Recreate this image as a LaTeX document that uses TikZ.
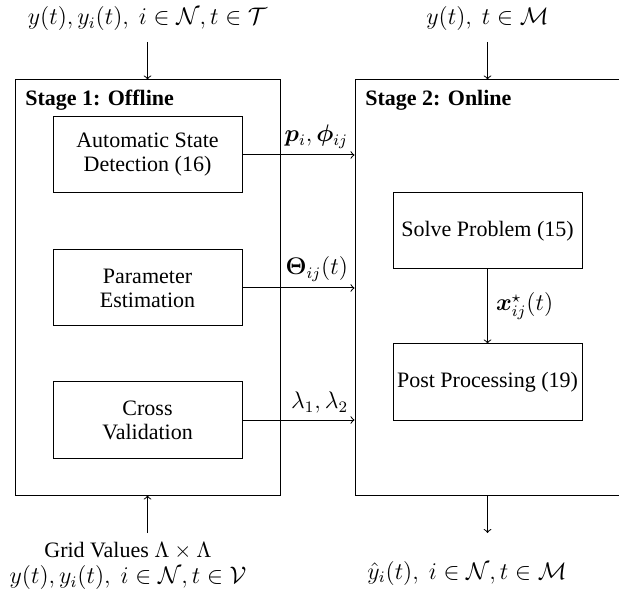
\documentclass[tikz,border=0pt]{standalone}
\usepackage{amsmath,amssymb}
\usepackage{bm}
\usepackage[no-math]{fontspec}
\setmainfont{Liberation Serif}
\newcommand{\mathsz}{\fontsize{12}{13}\selectfont}
\begin{document}
\begin{tikzpicture}[x=0.5pt,y=-0.5pt,
  every node/.style={font=\fontsize{11}{12}\selectfont},
  stagebox/.style={draw, line width=0.5pt},
  procbox/.style={draw, line width=0.5pt, minimum width=94.5pt, minimum height=38pt, align=center, inner sep=2pt},
  lab/.style={inner sep=0pt, align=center},
  mlab/.style={font=\mathsz},
  conn/.style={->, line width=0.5pt},
  title/.style={anchor=north west, inner sep=0pt, font=\fontsize{11}{12}\selectfont\bfseries}]
\useasboundingbox (0,0) rectangle (619,597);
% stage boxes
\node[stagebox, minimum width=132.5pt, minimum height=207.5pt, inner sep=0pt] (s1) at (147.5,287.5) {};
\node[stagebox, minimum width=142.5pt, minimum height=207.5pt, inner sep=0pt] (s2) at (497.5,287.5) {};
\node[title] (t1) at (25,90) {Stage 1: Offline};
\node[title] (t2) at (365,90) {Stage 2: Online};
% process boxes
\node[procbox] (auto) at (147.5,155) {Automatic State\\Detection (16)};
\node[procbox] (param) at (147.5,288) {Parameter\\Estimation};
\node[procbox] (cross) at (147.5,420) {Cross\\Validation};
\node[procbox] (solve) at (487.5,231) {Solve Problem (15)};
\node[procbox] (post) at (487.5,382) {Post Processing (19)};
% connectors between stages
\draw[conn] (auto.east) -- (auto.east -| s2.west) node[mlab, above left, inner sep=3pt] {$\bm{p}_i, \bm{\phi}_{ij}$};
\draw[conn] (param.east) -- (param.east -| s2.west) node[mlab, above left, inner sep=3pt] {$\bm{\Theta}_{ij}(t)$};
\draw[conn] (cross.east) -- (cross.east -| s2.west) node[mlab, above left, inner sep=3pt] {$\lambda_1, \lambda_2$};
\draw[conn] (solve.south) -- (post.north) node[mlab, midway, right, inner sep=4pt] {$\bm{x}^\star_{ij}(t)$};
% inputs / outputs
\node[lab, mlab] (in1) at (147.5,19) {$y(t), y_i(t),\ i \in \mathcal{N}, t \in \mathcal{T}$};
\node[lab, mlab] (in2) at (487.5,19) {$y(t),\ t \in \mathcal{M}$};
\coordinate (a1) at (147.5,42);
\coordinate (a2) at (487.5,42);
\draw[conn] (a1) -- (a1 |- s1.north);
\draw[conn] (a2) -- (a2 |- s2.north);
\node[lab] (in3) at (128,566) {Grid Values $\Lambda \times \Lambda$\\[1pt]{\mathsz$y(t), y_i(t),\ i \in \mathcal{N}, t \in \mathcal{V}$}};
\coordinate (a3) at (147.5,533);
\draw[conn] (a3) -- (a3 |- s1.south);
\node[lab, mlab] (out) at (467,573) {$\hat{y}_i(t),\ i \in \mathcal{N}, t \in \mathcal{M}$};
\coordinate (a4) at (487.5,533);
\draw[conn] (a4 |- s2.south) -- (a4);
\end{tikzpicture}
\end{document}
